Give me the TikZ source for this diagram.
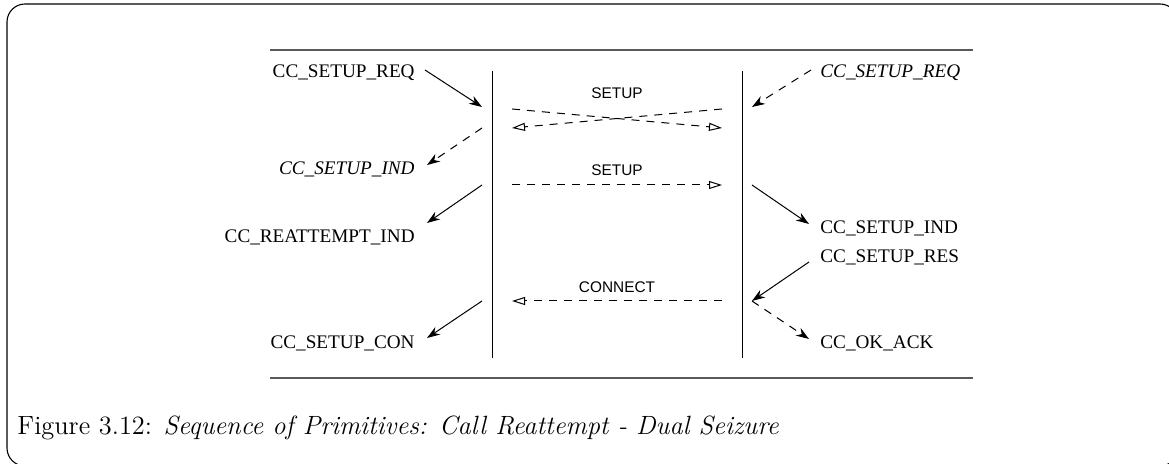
\documentclass[tikz,border=0pt]{standalone}
\usepackage{fontspec}
\usetikzlibrary{arrows.meta}
\newfontfamily\timesfont{Liberation Serif}
\newfontfamily\helvfont{Liberation Sans}
\newcommand{\ccname}[1]{CC\_#1}

\begin{document}
\begin{tikzpicture}[x=0.5pt,y=-0.5pt,
    prim/.style={inner sep=0pt, font=\timesfont\fontsize{9.6}{12}\selectfont},
    msg/.style={inner sep=0pt, font=\helvfont\fontsize{7.7}{9}\selectfont},
    dashpat/.style={dash pattern=on 4pt off 3.5pt},
    call/.style={line width=0.5pt, -{Stealth[length=6.5pt,width=4.5pt]}},
    signal/.style={line width=0.5pt, dashpat, -{Triangle[open,length=6.5pt,width=4pt]}},
    lifeline/.style={line width=0.5pt}]
    \useasboundingbox (0,0) rectangle (1169,464);
    \clip (0,0) rectangle (1169,464);
    \draw[line width=0.55pt, rounded corners=9pt] (7,4) rectangle (1178,466);

    \draw[line width=0.65pt, black!65] (270,50) -- (973,50);
    \draw[line width=0.65pt, black!65] (270,378) -- (973,378);
    \draw[lifeline] (492,71) -- (492,358);
    \draw[lifeline] (742,71) -- (742,358);

    % points on the lifelines
    \coordinate (a) at (482,107);
    \coordinate (b) at (482,128);
    \coordinate (c) at (482,185);
    \coordinate (d) at (482,301);
    \coordinate (e) at (752,107);
    \coordinate (f) at (752,185);
    \coordinate (g) at (752,301);
    \coordinate (ma1) at (512,109);
    \coordinate (mb1) at (722,128);
    \coordinate (ma2) at (722,109);
    \coordinate (mb2) at (512,128);
    \coordinate (mc1) at (512,185);
    \coordinate (mc2) at (722,185);
    \coordinate (md1) at (722,301);
    \coordinate (md2) at (512,301);

    % left side
    \node[prim, anchor=east] (lreq) at (415,73) {\ccname{SETUP\_REQ}};
    \node[prim, anchor=east] (lind) at (415,169) {\itshape\ccname{SETUP\_IND}};
    \node[prim, anchor=east] (lrea) at (415,237) {\ccname{REATTEMPT\_IND}};
    \node[prim, anchor=east] (lcon) at (415,343) {\ccname{SETUP\_CON}};
    \draw[call] ([shift={(10,-3)}]lreq.east) -- (a);
    \draw[call, dashpat] (b) -- ([shift={(12,-4)}]lind.east);
    \draw[call] (c) -- ([shift={(12,-14)}]lrea.east);
    \draw[call] (d) -- ([shift={(12,-5)}]lcon.east);

    % right side
    \node[prim, anchor=west] (rreq) at (820,73) {\itshape\ccname{SETUP\_REQ}};
    \node[prim, anchor=west] (rind) at (820,228) {\ccname{SETUP\_IND}};
    \node[prim, anchor=west] (rres) at (820,257) {\ccname{SETUP\_RES}};
    \node[prim, anchor=west] (rack) at (820,343) {\ccname{OK\_ACK}};
    \draw[call, dashpat] ([shift={(-9,-3)}]rreq.west) -- (e);
    \draw[call] (f) -- ([shift={(-11,-4)}]rind.west);
    \draw[call] ([shift={(-11,5)}]rres.west) -- (g);
    \draw[call, dashpat] (g) -- ([shift={(-11,-4)}]rack.west);

    % messages
    \node[msg] (setupa) at (617,93) {SETUP};
    \node[msg] (setupb) at (617,170) {SETUP};
    \node[msg] (conn) at (617,287) {CONNECT};
    \draw[signal] (ma1) -- (mb1);
    \draw[signal] (ma2) -- (mb2);
    \draw[signal] (mc1) -- (mc2);
    \draw[signal] (md1) -- (md2);

    \node[anchor=west, inner sep=0pt, font=\fontsize{13.2}{15}\selectfont] (cap) at (17,428)
      {Figure 3.12: \textit{Sequence of Primitives: Call Reattempt - Dual Seizure}};
\end{tikzpicture}
\end{document}
